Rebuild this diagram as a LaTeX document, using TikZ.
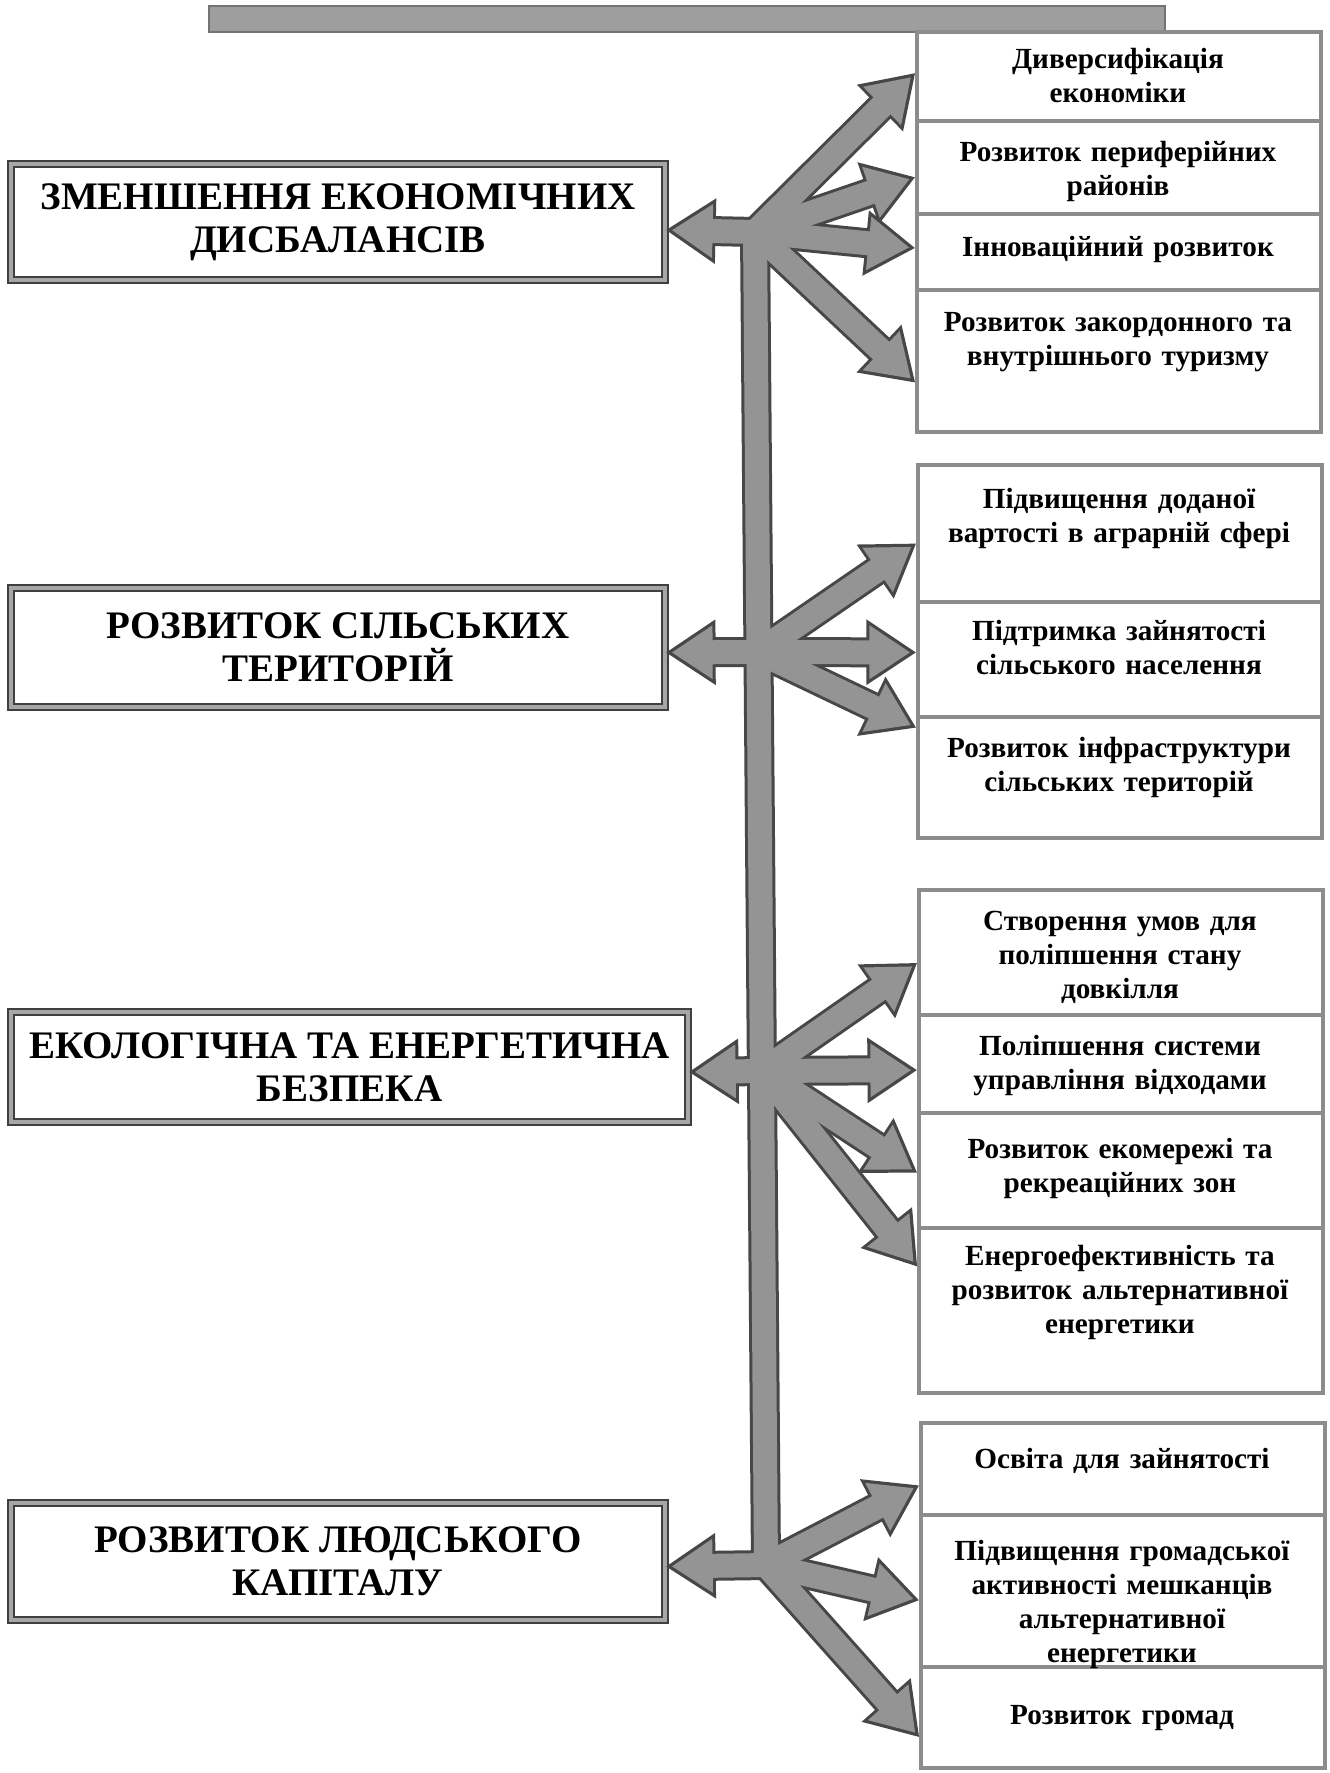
\documentclass[tikz,border=0pt]{standalone}
\usepackage{fontspec}
\setmainfont{Liberation Serif}
\usetikzlibrary{arrows.meta,calc,fit}
\begin{document}
\begin{tikzpicture}[x=0.5pt,y=-0.5pt,
  lbox/.style={draw=black!75, double=black!35, double distance=2.4pt, line width=0.6pt, inner sep=0pt, align=center, font=\bfseries\fontsize{19.5}{21.5}\selectfont},
  rbox/.style={draw=black!45, line width=1.6pt, inner sep=0pt},
  rtext/.style={align=center, text width=200pt, font=\bfseries\fontsize{14.6}{17}\selectfont, inner sep=0pt},
  topband/.style={fill=black!38, draw=black!55, line width=1pt, inner sep=0pt},
  aout/.style={line width=15pt, draw=black!72, -{Triangle[length=25pt,width=31pt]}},
  ain/.style={line width=12pt, draw=black!42, shorten >=3pt, -{Triangle[length=20.5pt,width=25.5pt]}},
  trout/.style={line width=15pt, draw=black!72},
  trin/.style={line width=12pt, draw=black!42},
]
\fill[white] (0,0) rectangle (1329,1773);
\useasboundingbox (0,0) rectangle (1329,1773);

% top band
\node[topband, fit={(209,6)(1165,32)}] (topbar) {};

% left boxes
\node[lbox, minimum width=327pt, minimum height=58pt] (l1) at (338,222) {ЗМЕНШЕННЯ ЕКОНОМІЧНИХ\\ДИСБАЛАНСІВ};
\node[lbox, minimum width=327pt, minimum height=59.5pt] (l2) at (338,647.5) {РОЗВИТОК СІЛЬСЬКИХ\\ТЕРИТОРІЙ};
\node[lbox, minimum width=338.5pt, minimum height=55pt] (l3) at (349.5,1067) {ЕКОЛОГІЧНА ТА ЕНЕРГЕТИЧНА\\БЕЗПЕКА};
\node[lbox, minimum width=327pt, minimum height=58.5pt] (l4) at (338,1561.5) {РОЗВИТОК ЛЮДСЬКОГО\\КАПІТАЛУ};

% right boxes
\node[rbox, fit={(917,32)(1321,121)}] (r11) {};
\node[rbox, fit={(917,121)(1321,214)}] (r12) {};
\node[rbox, fit={(917,214)(1321,290)}] (r13) {};
\node[rbox, fit={(917,290)(1321,432)}] (r14) {};
\node[rbox, fit={(918,465)(1322,602)}] (r21) {};
\node[rbox, fit={(918,602)(1322,717)}] (r22) {};
\node[rbox, fit={(918,717)(1322,838)}] (r23) {};
\node[rbox, fit={(919,890)(1323,1015)}] (r31) {};
\node[rbox, fit={(919,1015)(1323,1113)}] (r32) {};
\node[rbox, fit={(919,1113)(1323,1228)}] (r33) {};
\node[rbox, fit={(919,1228)(1323,1393)}] (r34) {};
\node[rbox, fit={(921,1423)(1325,1515)}] (r41) {};
\node[rbox, fit={(921,1515)(1325,1667)}] (r42) {};
\node[rbox, fit={(921,1667)(1325,1768)}] (r43) {};

% right texts
\node[rtext] (t11) at (1118,76) {Диверсифікація\\економіки};
\node[rtext] (t12) at (1118,171) {Розвиток периферійних\\районів};
\node[rtext] (t13) at (1118,249) {Інноваційний розвиток};
\node[rtext] (t14) at (1118,342) {Розвиток закордонного та\\внутрішнього туризму};
\node[rtext] (t21) at (1119,518) {Підвищення доданої\\вартості в аграрній сфері};
\node[rtext] (t22) at (1119,648) {Підтримка зайнятості\\сільського населення};
\node[rtext] (t23) at (1119,767) {Розвиток інфраструктури\\сільських територій};
\node[rtext] (t31) at (1120,957) {Створення умов для\\поліпшення стану\\довкілля};
\node[rtext] (t32) at (1120,1066) {Поліпшення системи\\управління відходами};
\node[rtext] (t33) at (1120,1168) {Розвиток екомережі та\\рекреаційних зон};
\node[rtext] (t34) at (1120,1292) {Енергоефективність та\\розвиток альтернативної\\енергетики};
\node[rtext] (t41) at (1122,1461) {Освіта для зайнятості};
\node[rtext] (t42) at (1122,1604) {Підвищення громадської\\активності мешканців\\альтернативної\\енергетики};
\node[rtext] (t43) at (1122,1718) {Розвиток громад};

% hubs
\coordinate (h1) at (755,232);
\coordinate (h2) at (758,652);
\coordinate (h3) at (762,1071);
\coordinate (h4) at (766,1565);

% arrow tips
\coordinate (e10) at ($(l1.east)+(0,8)$);
\coordinate (e11) at ($(r11.north west)!0.46!(r11.south west)$);
\coordinate (e12) at ($(r12.north west)!0.60!(r12.south west)$);
\coordinate (e13) at ($(r13.north west)!0.45!(r13.south west)$);
\coordinate (e14) at ($(r14.north west)!0.65!(r14.south west)$);
\coordinate (e20) at ($(l2.east)+(0,5)$);
\coordinate (e21) at ($(r21.north west)!0.57!(r21.south west)$);
\coordinate (e22) at ($(r22.north west)!0.44!(r22.south west)$);
\coordinate (e23) at ($(r23.north west)!0.10!(r23.south west)$);
\coordinate (e30) at ($(l3.east)+(0,5)$);
\coordinate (e31) at ($(r31.north west)!0.58!(r31.south west)$);
\coordinate (e32) at ($(r32.north west)!0.56!(r32.south west)$);
\coordinate (e33) at ($(r33.north west)!0.52!(r33.south west)$);
\coordinate (e34) at ($(r34.north west)!0.24!(r34.south west)$);
\coordinate (e40) at ($(l4.east)+(0,5)$);
\coordinate (e41) at ($(r41.north west)!0.67!(r41.south west)$);
\coordinate (e42) at ($(r42.north west)!0.56!(r42.south west)$);
\coordinate (e43) at ($(r43.north west)!0.69!(r43.south west)$);

% outlines
\foreach \h/\e in {h1/e10,h1/e11,h1/e12,h1/e13,h1/e14,h2/e20,h2/e21,h2/e22,h2/e23,h3/e30,h3/e31,h3/e32,h3/e33,h3/e34,h4/e40,h4/e41,h4/e42,h4/e43}
  \draw[aout] (\h) -- (\e);
\draw[trout] (h1) -- (h4);
\draw[trin] (h1) -- (h4);
\foreach \h/\e in {h1/e10,h1/e11,h1/e12,h1/e13,h1/e14,h2/e20,h2/e21,h2/e22,h2/e23,h3/e30,h3/e31,h3/e32,h3/e33,h3/e34,h4/e40,h4/e41,h4/e42,h4/e43}
  \draw[ain] (\h) -- (\e);
\end{tikzpicture}
\end{document}
